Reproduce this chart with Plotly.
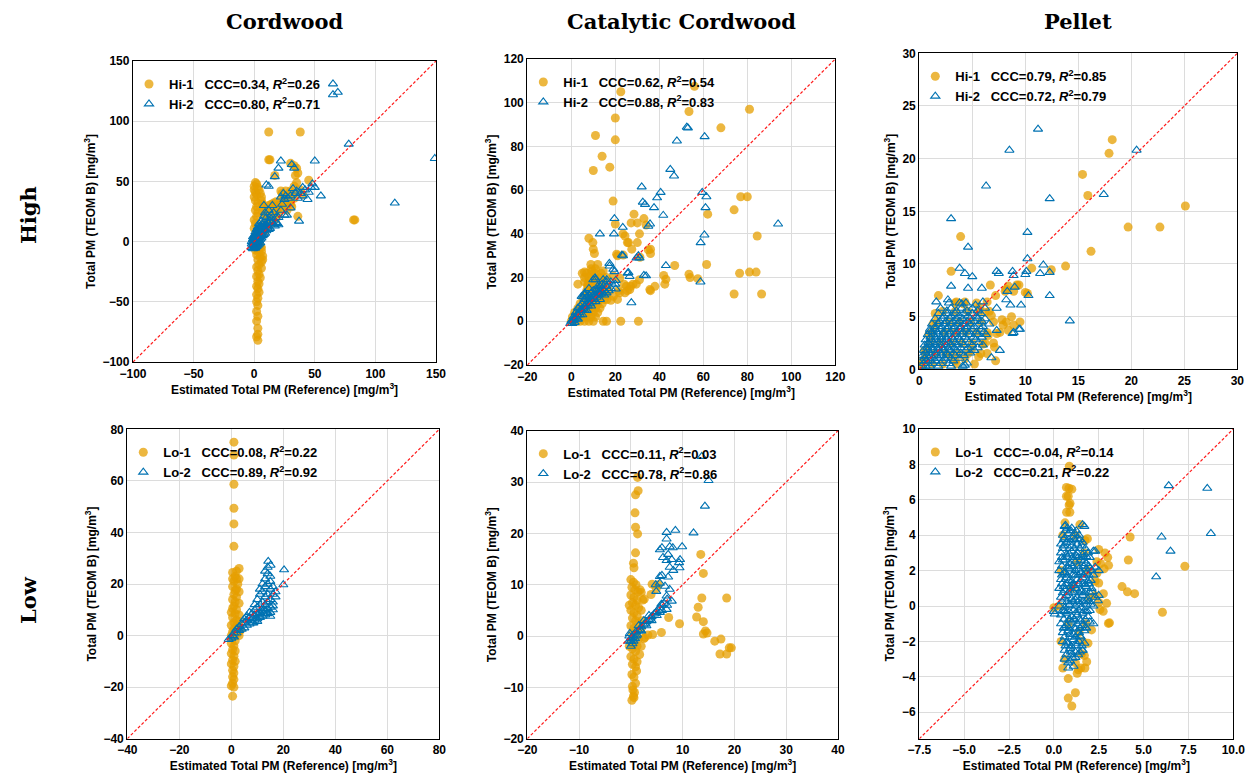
import plotly.graph_objects as go

# ---------------- data ----------------
cord_hi_1 = [(3,-82),(2,-79),(3,-77),(3,-72),(2,-66),(3,-62),(2,-58),(3,-53),(2,-50),(3,-47),(2,-44),(4,-42),(3,-39),(2,-37),(4,-35),(3,-33),(5,-30),(2,-29),(4,-27),(3,-24),(6,-22),(2,-21),(4,-19),(6,-17),(3,-15),(5,-13),(7,-12),(2,-11),(4,-9),(6,-8),(1,-7),(3,-6),(5,-4),(0,-4),(2,-2),(4,-1),(1,0),(7,-15),(6,-5),
             (0,46),(1,49),(2,48),(0,43),(1,41),(2,39),(0,37),(1,34),(3,32),(2,29),(1,26),(3,24),(2,21),(0,18),(1,15),(3,13),(0,11),(2,8),(1,5),(3,3),(0,1),
             (3,45),(4,43),(5,40),(6,37),(6,34),(7,31),(8,28),(7,25),(9,23),(10,21),
             (10,27),(12,30),(14,31),(16,32),(18,33),(20,30),(22,35),(23,40),(25,37),(26,42),(28,39),(29,35),(30,42),(32,40),(33,46),(35,49),(34,55),(36,57),(35,61),(30,65),(33,63),(22,42),(26,31),(15,26),(12,22),(18,26),(20,23),(23,28),(30,31),(25,33),(33,36),(36,21),(38,43),(40,39),(45,51),(17,55),(12,68),(13,68),(12,91),(38,91),(82,18),(83,18),(20,28),(8,15),(10,12),(6,6),(9,9),(13,14),(15,18),(5,11),(27,26),(31,29),(18,19),(16,22)]
cord_hi_2 = [(-2,-5),(-1,-6),(0,-4),(1,-5),(2,-4),(3,-3),(-2,-2),(-1,-1),(0,-2),(1,0),(2,1),(3,0),(4,1),(5,2),(2,4),(3,5),(4,6),(5,4),(6,3),(1,3),(0,5),(-1,2),(0,1),(2,7),(3,9),(4,10),(5,8),(6,7),(7,9),(8,11),(6,12),(7,14),(9,13),(10,14),(11,16),(12,15),(8,6),(9,7),(10,9),(1,-2),(4,3),(5,-1),(3,12),(2,10),(4,15),(6,17),(5,13),(7,5),(1,6),(3,-1),(-1,-3),(0,3),(1,8),(2,-1),(4,-2),(3,7),(5,10),(-2,0),(-1,4),(6,9),
             (0.5,-5.5),(1.5,-3),(2.5,-2),(-0.5,0),(0.5,2),(1.5,4.5),(2.5,5.5),(3.5,3),(4.5,4.5),(1.5,1),(3.5,10.5),(5.5,11.5),(6.5,14.5),(7.5,11),(8.5,13.5),
             (13,17),(14,19),(15,16),(16,14),(17,13),(18,16),(19,15),(20,14),(12,10),(10,20),(8,21),(9,24),(8,30),(12,26),(15,30),(10,47),(12,46),(14,22),(20,20),(22,26),(25,22),(25,35),(24,40),(22,37),(23,31),(26,38),(28,36),(30,38),(32,44),(34,40),(35,42),(36,36),(38,40),(40,38),(42,43),(44,35),(45,41),(47,45),(48,48),(50,45),(50,67),(55,38),(37,17),(27,22),(22,67),(20,61),(31,64),(33,61),(17,54),(65,131),(65,122),(69,124),(78,81),(149,69),(116,32),(30,28),(18,20),(16,24),(40,45),(11,12),(13,11)]

cat_hi_1 = [(22.5,105),(56,107.5),(53.5,96),(81,97),(68,88.5),(20,93),(20,83),(11,85),(14,75.5),(17.5,70.5),(10,69),(19,55),(77,57),(80,57),(62,49),(74,51),(84.5,39),(28.5,49),(33,47),(30,45),(20,44.5),(23.5,40),(31,40),(25.5,36),(36,33),(36,31),(30,36),(8,38),(9.8,36),(10,33),(10.5,31),(21,30),(61.5,26),(47,25.5),(42,21),(53.5,21.5),(54,20),(57.5,19.5),(76.5,22),(81,22.5),(84,22.5),(74,12.5),(86.5,12.5),(42.5,17),(38,16),(36,14),(22.5,0),(30.5,0),(14.5,0),(10,0),(16,0),(24,17),(27,16),(29.5,17),(25.5,14),(31,19),(21,10),(18,9.6),(21.5,14),(6,22.5),(8.9,26),(12,26),(9.5,23),(14.5,23),(16,20),(13,17),(7.5,17),(3,17),
            (27.2,45),(34,44),(24.4,39),(26,36),(27.5,33),(35,32.7),(31.2,29.3),(20.6,30.7),(23.6,30.3),(19.1,20.6),(22,19.8),(25,16),(28,17),(24.4,13),(26.6,14.5),(35.7,14.5),(43,19.2),(22,13),(19.1,11.4),(16.1,9.9),(13,10.6),
            (0,0),(1,0),(2.5,0),(4,0),(6,0),(8,0),(0.5,2),(2,2),(3.5,2),(5,2),(7,2),(9,2),(11,2),(1.5,4),(3,4),(4.5,4),(6,4),(8,4),(10,4),(12,4),(3,6),(4.5,6),(6,6),(7.5,6),(9,6),(11,6),(13,6),(4,8),(5.5,8),(7,8),(8.5,8),(10,8),(12,8),(14,8),(5.5,10),(7,10),(8.5,10),(10,10),(11.5,10),(13,10),(15,10),(6.5,12),(8,12),(9.5,12),(11,12),(12.5,12),(14,12),(16,12),(7,14),(8.5,14),(10,14),(11.5,14),(13,14),(15,14),(17,14),(7.5,16),(9,16),(10.5,16),(12,16),(14,16),(16,16),(6,18),(8,18),(10,18),(12,18),(14,18),(6,20),(8,20),(10.5,20),(13,20),(5,22),(7,22),(9,21.5),(11,22),(13.5,22),(9,24),(11,24)]
cat_hi_2 = [(53,88.5),(52.5,88.8),(60.6,84.5),(48,82.5),(45,69.5),(46.7,66.5),(32,61.5),(40.6,59),(59.5,59),(39,56.5),(61.4,57),(32.5,54.5),(33.5,53.5),(37.6,52),(61,52),(41.8,48.5),(35.8,44.5),(35,43.5),(94,44.5),(60.5,39.5),(58.8,36),(19.6,47),(19.4,40),(13,40),(23.4,43),(23.5,30),(29.7,29),(31,29),(43,25.5),(58.7,18),(33,21),(25.6,22),(26.5,20.5),(27.3,8.5),(20.2,18.7),(20.2,14.8),(17.4,25.3),(19.6,22.7),(11,19),(14.5,19),(6.1,12),(5.2,11.2),
            (17.3,26.5),(23,30.3),(30.5,30),(19.1,23.8),(26,22.3),(34,20.8),(10.8,19.9),(6.2,13),(4.7,11.4),(10,19),(16.1,19),(13,16),(11.5,14.5),
            (0,0),(0.5,-1),(1,0.5),(1.5,1),(2,2),(2.5,1.5),(3,3),(3.5,4),(4,3),(4.5,5),(5,5),(5.5,6),(6,5),(6.5,7),(7,8),(7.5,7),(8,9),(8.5,8),(9,10),(9.5,9),(10,11),(10.5,10),(11,12),(11.5,11),(12,13),(12.5,12),(13,14),(13.5,12.5),(14,15),(15,14),(16,16),(5,8),(6,10),(7,11),(8,12),(9,13),(4,7),(3,6),(2,4),(1,2),(3,1),(5,3),(7,5),(9,7),(11,9),(13,10),(15,12),(17,14),(10,14),(12,16),(14,17),(16,13),(18,15),(20,17),(6,12.5),(8,15),(-0.5,-1),(0.5,0.5),(1.5,-0.5),(2.5,3),(4,5),(6,7),(8,10),(10,12),(12,14),(14,13),(16,18),(18,18)]

pel_hi_1 = [(18.2,21.8),(17.9,20.5),(15.4,18.5),(15.9,16.5),(25.1,15.5),(19.7,13.5),(22.7,13.5),(16.2,11.2),(3.9,12.6),(13.8,9.8),(12.45,9.45),(10.6,9.6),(3.0,9.3),(1.8,7),(6.7,8),(9.2,8),(8.2,7.6),(10,7.3),(7.2,7),(7.2,0.8),(2.9,1.3),
            (8.4,7.9),(9.4,8),(8.9,7.4),(8.1,7.4),(10.2,7.2),(3.5,6.4),(4.3,6.4),(5.7,5.9),(6.2,5.4),(6.8,5.1),(7.8,4.7),(8.7,5),(9.5,4.5),(8.9,4.2),(7.9,4.2),(8.4,3.7),(7.3,3.4),(6.5,3.2),(6.0,2.4),(7.1,2.1),(6.4,1.5),(5.6,1.2),(4.9,1.8),(4.3,1),(3.4,0.8),(1.5,5.3),(1.3,4.3),(0.9,3.3),(0.5,1.8),(0.2,0.8),(0.2,0.4),(0.5,0.9),(0.1,0.2),
            (0.3,0.5),(1.2,0.5),(2.2,0.5),(3.5,0.5),(5.2,0.5),(0.6,1.5),(1.5,1.5),(2.5,1.5),(3.6,1.5),(4.6,1.5),(5.8,1.5),(1.0,2.5),(2.0,2.5),(3.0,2.5),(4.0,2.5),(5.0,2.5),(6.2,2.5),(7.0,2.5),(1.2,3.5),(2.4,3.5),(3.4,3.5),(4.4,3.5),(5.4,3.5),(6.4,3.5),(7.6,3.5),(1.6,4.5),(2.8,4.5),(3.8,4.5),(4.8,4.5),(5.8,4.5),(7.0,4.5),(8.2,4.5),(2.2,5.5),(3.4,5.5),(4.6,5.5),(5.6,5.5),(6.6,5.5),(3.4,6.3),(4.2,6.2),(5.4,6.3),(6.4,6.4)]
pel_hi_2 = [(11.2,22.8),(8.5,20.8),(20.5,20.8),(6.3,17.4),(17.4,16.6),(12.3,16.2),(3.0,14.3),(10.2,13),(4.6,11.6),(10.2,10.5),(3.8,9.6),(4.3,9.1),(5,8.8),(7.3,9.3),(8.8,9.3),(11.7,9.9),(11.4,9.1),(12.3,9.2),(10,9),(10.3,7),(12.3,7),(14.2,4.6),(3,7.9),(5.9,7.7),(4.6,7.7),(8.8,3.4),(9.4,3.8),(7.6,1.8),(4.5,0.6),
            (7.5,9.1),(8.9,8.9),(10.1,9.3),(8.3,7.4),(9,7.8),(8.2,6.6),(9.6,6.1),(8.6,6.1),(7.3,5.8),(1.6,6.4),(2.7,6.6),(4,6.2),(5.3,6.1),(6.0,6.4),(7.3,3.7),(8.9,3.5),(9.5,3.8),(6.8,1.1),(4.3,0.4),(1.0,3.6),(0.9,2.4),
            (0.2,0.3),(0.6,0.3),(1.0,0.3),(1.8,0.3),(3.0,0.3),(4.1,0.3),(0.2,0.8),(0.6,0.8),(1.0,0.8),(1.5,0.8),(2.2,0.8),(3.2,0.8),(0.3,1.3),(0.7,1.3),(1.1,1.3),(1.6,1.3),(2.1,1.3),(2.7,1.3),(3.4,1.3),(4.2,1.3),(0.4,1.8),(0.8,1.8),(1.3,1.8),(1.8,1.8),(2.3,1.8),(2.9,1.8),(3.5,1.8),(4.4,1.8),(5.2,1.8),(0.5,2.3),(1.0,2.3),(1.5,2.3),(2.0,2.3),(2.5,2.3),(3.0,2.3),(3.6,2.3),(4.2,2.3),(5.0,2.3),(6.0,2.3),(0.6,2.8),(1.1,2.8),(1.6,2.8),(2.1,2.8),(2.6,2.8),(3.2,2.8),(3.8,2.8),(4.5,2.8),(5.3,2.8),(0.8,3.3),(1.3,3.3),(1.8,3.3),(2.3,3.3),(2.8,3.3),(3.4,3.3),(4.0,3.3),(4.7,3.3),(5.5,3.3),(6.3,3.3),(1.0,3.8),(1.5,3.8),(2.0,3.8),(2.6,3.8),(3.2,3.8),(3.8,3.8),(4.4,3.8),(5.0,3.8),(5.8,3.8),(1.2,4.3),(1.8,4.3),(2.4,4.3),(3.0,4.3),(3.6,4.3),(4.2,4.3),(4.8,4.3),(5.6,4.3),(6.6,4.3),(1.5,4.8),(2.2,4.8),(2.9,4.8),(3.5,4.8),(4.1,4.8),(4.8,4.8),(5.5,4.8),(6.2,4.8),(1.8,5.3),(2.6,5.3),(3.4,5.3),(4.2,5.3),(5.0,5.3),(5.8,5.3),(2.0,5.8),(3.0,5.8),(4.0,5.8),(5.0,5.8),(6.2,5.8),(2.8,6.3),(3.8,6.3),(4.4,6.3),
            (0.4,0.55),(0.8,0.55),(1.3,0.55),(2.0,0.55),(2.8,0.55),(0.5,1.05),(0.9,1.05),(1.35,1.05),(1.85,1.05),(2.4,1.05),(3.0,1.05),(3.8,1.05),(0.6,1.55),(1.05,1.55),(1.55,1.55),(2.05,1.55),(2.6,1.55),(3.2,1.55),(3.9,1.55),(4.8,1.55),(0.75,2.05),(1.25,2.05),(1.75,2.05),(2.25,2.05),(2.75,2.05),(3.3,2.05),(3.9,2.05),(4.6,2.05),(5.5,2.05),(0.85,2.55),(1.35,2.55),(1.85,2.55),(2.35,2.55),(2.85,2.55),(3.4,2.55),(4.0,2.55),(4.7,2.55),(5.6,2.55),(1.05,3.05),(1.55,3.05),(2.05,3.05),(2.55,3.05),(3.1,3.05),(3.7,3.05),(4.3,3.05),(5.1,3.05),(5.9,3.05),(1.2,3.55),(1.7,3.55),(2.3,3.55),(2.9,3.55),(3.5,3.55),(4.1,3.55),(4.7,3.55),(5.4,3.55),(6.1,3.55),(1.5,4.05),(2.1,4.05),(2.7,4.05),(3.3,4.05),(3.9,4.05),(4.5,4.05),(5.2,4.05),(6.0,4.05),(1.9,4.55),(2.5,4.55),(3.2,4.55),(3.8,4.55),(4.5,4.55),(5.2,4.55),(5.9,4.55),(2.3,5.05),(3.0,5.05),(3.8,5.05),(4.6,5.05),(5.4,5.05),(2.6,5.55),(3.5,5.55),(4.5,5.55),(5.5,5.55)]

cord_lo_1 = [(1,75),(1,70),(1,58.7),(1,49.4),(1,43.3),(1,34.6),
             (3,26),(2,25),(0.5,24.5),(1.5,23),(3,22),(1,21),(2.5,20),(0.5,19),(2,18),(3,17),(1,16),(2,15),(0.5,14),(1.5,13),(3,12.5),(1,11.5),(2,10),(0,9),(1.5,8.5),(3,8),(0.5,7),(2,6),(1,5),(3,5.5),(0,4),(2,3.5),(1,2.5),(3.5,2),(0.5,1.5),(2.5,1),(0,0),(1.5,0.5),(3,0),(0.5,-1),(1.5,-2),(0,-3),(1,-4),(0.5,-5.5),(1.5,-6),(0,-7),(1,-8),(0.5,-9.5),(1.5,-10),(0,-11),(1,-12),(0.5,-13.5),(1,-14.5),(0.5,-16),(1,-17),(0.5,-18.5),(0,-19.5),(1,-20),(0.5,-23.5),(2,2),(2.5,4),(0.5,10.5),(1.5,17.5),(2,22),(0.5,22)]
cord_lo_2 = [(-1,-1.5),(0,-1),(0.5,0),(1,1),(1,-0.5),(2,1),(2,2.5),(3,2),(3,3.5),(4,2.5),(4,4.5),(5,3),(5,5),(6,4),(6,6),(7,4.5),(7,7),(8,5),(8,6.5),(8,8.5),(9,6),(9,8),(9,10),(10,6.5),(10,8.5),(10,11),(10,14),(11,7),(11,9),(11,12),(11,16),(12,7.5),(12,9.5),(12,13),(12,17),(12,20),(13,8),(13,10),(13,12),(13,15),(13,19),(13,22),(13,25),(14,8.5),(14,10.5),(14,13),(14,16),(14,20),(14,24),(14,26.5),(15,9),(15,11),(15,14),(15,18),(15,21),(15,23),(16,10),(16,13),(16,16),(16,19),(17,15),(17,17),(14.2,28.8),(15.1,27.3),(20.3,25.5),(20,19.7),(7,9),(6,7.5),(5,6.5),(9,12),(11,18),(12,10.5),(10,5.5),(16,11.5),(15,7.5),(8.5,4.9),(11,7.5),(13,9.5)]

cat_lo_1 = [(1.3,30.9),(1.4,28.3),(0.9,27.5),(0.8,24),(0.9,21.2),(1.3,19.9),(0.9,16.2),(0.5,14.2),(0.6,13.3),
            (0,11),(0.5,10.5),(1,10),(0.2,9.5),(0.8,9),(1.4,8.6),(0,8),(0.6,7.5),(1.2,7),(0.3,6.5),(0.9,6),(1.5,5.5),(0,5),(0.6,4.5),(1.2,4),(0.3,3.5),(0.9,3),(1.5,2.5),(0,2),(0.6,1.5),(1.2,1),(0.3,0.5),(0.9,0),(1.5,-0.5),(0,-1),(0.6,-1.5),(1.2,-2),(0.3,-2.5),(0.9,-3),(1.7,-3.6),(0,-4),(0.6,-4.5),(1.2,-5),(0.3,-5.5),(0.9,-6),(1.1,-6.8),(0.2,-7.5),(0.6,-8),(0.9,-9.2),(0.3,-9.8),(0.4,-10.5),(0.7,-11),(0.5,-11.7),(0.2,-12.5),(0.6,-12),
            (2,8.5),(2.3,7),(2,5),(2.2,3),(2,1.5),(2.5,-0.5),(2,-2),(-0.3,6),(-0.3,-2),
            (13.5,15.9),(14,12.2),(13.7,7.4),(18.5,7.4),(13,5.6),(12.7,3.7),(14,2.8),(14.4,1),(14,0.4),(14.7,0.6),(16.2,-1),(17.4,-0.6),(17.2,-3.5),(18.5,-3.5),(19,-2.3),(19.4,-2.3),(9.4,2.4),(7.3,3.6),(4.1,10.1),(5.3,10),(3.9,8.1),(2.6,7.2),(5.9,0.7),(3.3,0.2),(4.2,0.3),(4.9,9.2),(1.8,9),(2.7,-0.3)]
cat_lo_2 = [(13.7,35),(15,30.3),(14.3,25.3),(6.9,20.2),(8.6,20.6),(12.1,20.1),(9.9,17.4),(5.6,16.8),(8.1,17.2),(9.3,14.3),(4.8,10),(5.6,11.6),
            (6,17.2),(6.9,18.9),(7.5,17.4),(7.2,15.9),(6.2,15.3),(7.9,14.9),(9.5,14.9),(9.4,13.3),(6.9,14.7),(7.5,13.4),(8.2,12.8),(6,11.8),(7.2,11.5),(5.6,10.3),(4.9,8.7),(6.6,9.7),(7.5,9.1),(6.9,7.8),(7.9,6.8),(5.9,6.2),(6.9,5.2),
            (0,-1),(-0.3,0),(0.3,-1.5),(0.5,0.2),(1,0.8),(1.5,1),(2,1.8),(2.5,2.2),(3,2.8),(3.5,3.2),(4,3.8),(4.5,4.3),(5,4.8),(5.5,5.5),(6,6),(0.5,-1),(1,0),(2,1),(3,2),(4,3),(5,4),(6,5),(7,6),(1.5,2),(2.5,3),(3.5,4),(0,-2),(0,-0.5),(-0.2,0.5),(0.8,-0.5),(1.2,0.2),(0.3,-0.3),(-0.4,-1),(1.8,1.2),(2.8,2.4),(3.8,3.5),(4.8,4.5),(5.6,4.6),(6.4,6.4),(7,7.2)]

pel_lo_1 = [(0.86,7.9),(0.7,6.7),(1.0,6.6),(0.7,6.2),(0.85,5.7),(4.25,3.9),(4.15,2.6),(7.3,2.25),(3.8,1.1),(4.1,0.8),(4.5,0.7),(6.05,-0.35),(3.1,-0.95),(3,2.75),(3.05,2.3),(2.4,2.5),(2.8,2.1),(0.8,-4.1),(0.8,-5.2),(1.2,-4.9),(1.0,-5.65),(1.5,-3.5),(1.2,-3.2),(1.7,-2.8),(2.3,1.4),(2.3,0.6),(2.5,0.2),(2.75,-0.3),
            (0.84,6.65),(0.8,6.2),(0.9,5.8),(0.71,5.3),(0.89,5.3),(0.62,4.7),(1.45,4.6),(1.73,3.7),(1.87,3.8),(2.4,1.85),(2.5,1.3),(2.76,0.7),(2.94,0.15),(2.57,-0.2),(3.04,-0.98),(2.1,-1.35),(1.9,-2.1),(1.55,-2.7),(1.83,-3.15),(1.73,-3.5),(1.36,-3.6),(2.5,3.2),(2.85,3),(2.6,2.4),
            (0.5,4),(1.2,4),(1.7,3),(0.4,2),(1.9,2),(0.3,0),(2,0.5),(1.8,-1),(0.4,-2),(1.6,-2),(0.6,-3),(1.3,-3.8),(0.5,-3.5),(1,1),(1.3,2.5),(0.8,-1),(1.4,-1.5),(0,-0.1)]
pel_lo_2 = [(6.4,6.8),(8.55,6.65),(8.75,4.1),(6.0,3.9),(6.5,3.1),(5.7,1.65),(2.2,3.1),(1.7,4.5),(0.65,4.55),(2.5,2.0),(0,-0.3),(0.05,-0.45),(2.3,2.2),(2.5,0.6),(2.45,0.3),(2.2,-1),(1.6,-2.5),(2.3,3.1),
            (0.6,4.5),(1.0,4.4),(1.6,4.6),(0.5,4.0),(0.8,4.1),(1.1,3.9),(1.4,4.0),(0.4,3.5),(0.7,3.6),(1.0,3.4),(1.3,3.5),(1.6,3.6),(0.4,3.0),(0.7,2.9),(1.0,3.1),(1.3,3.0),(1.6,2.9),(1.9,3.0),(0.3,2.5),(0.6,2.6),(0.9,2.4),(1.2,2.5),(1.5,2.6),(1.8,2.4),(0.3,2.0),(0.6,1.9),(0.9,2.1),(1.2,2.0),(1.5,1.9),(1.8,2.1),(2.1,2.0),(0.4,1.5),(0.7,1.6),(1.0,1.4),(1.3,1.5),(1.6,1.6),(1.9,1.4),(0.3,1.0),(0.6,0.9),(0.9,1.1),(1.2,1.0),(1.5,0.9),(1.8,1.1),(2.1,1.0),(0.4,0.5),(0.7,0.6),(1.0,0.4),(1.3,0.5),(1.6,0.6),(1.9,0.4),(2.3,0.5),(0.3,0.0),(0.6,-0.1),(0.9,0.1),(1.2,0.0),(1.5,-0.1),(1.8,0.1),(2.2,0.0),(0.4,-0.5),(0.7,-0.4),(1.0,-0.6),(1.3,-0.5),(1.6,-0.4),(1.9,-0.6),(0.4,-1.0),(0.7,-1.1),(1.0,-0.9),(1.3,-1.0),(1.6,-1.1),(2.0,-0.9),(0.5,-1.5),(0.8,-1.4),(1.1,-1.6),(1.4,-1.5),(1.7,-1.4),(0.5,-2.0),(0.8,-2.1),(1.1,-1.9),(1.4,-2.0),(1.7,-2.1),(0.6,-2.5),(0.9,-2.4),(1.2,-2.6),(1.6,-2.5),(0.6,-3.0),(0.9,-3.1),(1.2,-2.9),(0.8,-3.5),(1.1,-3.4),
            (0.65,4.25),(0.95,4.25),(1.25,4.25),(0.55,3.75),(0.85,3.75),(1.15,3.75),(1.45,3.75),(0.5,3.25),(0.85,3.25),(1.15,3.25),(1.45,3.25),(1.75,3.25),(0.45,2.75),(0.75,2.75),(1.05,2.75),(1.35,2.75),(1.65,2.75),(2.0,2.75),(0.45,2.25),(0.75,2.25),(1.05,2.25),(1.35,2.25),(1.65,2.25),(1.95,2.25),(0.45,1.75),(0.75,1.75),(1.05,1.75),(1.35,1.75),(1.65,1.75),(1.95,1.75),(2.2,1.75),(0.45,1.25),(0.75,1.25),(1.05,1.25),(1.35,1.25),(1.65,1.25),(1.95,1.25),(0.5,0.75),(0.8,0.75),(1.1,0.75),(1.4,0.75),(1.7,0.75),(2.0,0.75),(0.45,0.25),(0.75,0.25),(1.05,0.25),(1.35,0.25),(1.65,0.25),(1.95,0.25),(0.5,-0.25),(0.8,-0.25),(1.1,-0.25),(1.4,-0.25),(1.7,-0.25),(2.0,-0.25),(0.55,-0.75),(0.85,-0.75),(1.15,-0.75),(1.45,-0.75),(1.75,-0.75),(0.55,-1.25),(0.85,-1.25),(1.15,-1.25),(1.45,-1.25),(1.8,-1.25),(0.6,-1.75),(0.9,-1.75),(1.2,-1.75),(1.5,-1.75),(0.65,-2.25),(0.95,-2.25),(1.25,-2.25),(1.55,-2.25),(0.7,-2.75),(1.0,-2.75),(1.35,-2.75),
            (0.75,4.4),(1.15,4.1),(0.6,3.85),(1.3,3.8),(0.95,3.6),(0.55,3.4),(1.55,3.4),(0.85,2.95),(1.25,2.85),(1.8,2.8),(0.5,2.6),(1.1,2.6),(1.7,2.55),(0.8,2.15),(1.4,2.1),(2.0,2.15),(0.55,1.85),(1.2,1.75),(1.8,1.85),(0.85,1.45),(1.5,1.4),(2.05,1.45),(0.55,1.1),(1.15,1.15),(1.75,1.2),(0.9,0.85),(1.55,0.8),(2.15,0.8),(0.6,0.4),(1.2,0.35),(1.8,0.3),(0.85,0.05),(1.45,0.1),(2.05,0.1),(0.6,-0.3),(1.25,-0.35),(1.85,-0.3),(0.9,-0.8),(1.5,-0.85),(0.6,-1.2),(1.2,-1.3),(1.75,-1.2),(0.9,-1.6),(1.45,-1.7),(0.7,-2.05),(1.25,-2.1),(0.95,-2.6),(1.45,-2.6),(0.8,-3.2),(1.05,-2.95)]

fuel_titles = ["Cordwood", "Catalytic Cordwood", "Pellet"]
load_titles = ["High", "Low"]
series_names = [["Hi-1", "Hi-2"], ["Lo-1", "Lo-2"]]
ccc_1 = [[0.34, 0.62, 0.79], [0.08, 0.11, -0.04]]
r2_1 = [[0.26, 0.54, 0.85], [0.22, 0.03, 0.14]]
ccc_2 = [[0.80, 0.88, 0.72], [0.89, 0.78, 0.21]]
r2_2 = [[0.71, 0.83, 0.79], [0.92, 0.86, 0.22]]
axis_ranges = [[[-100, 150], [-20, 120], [0, 30]], [[-40, 80], [-20, 40], [-7.5, 10]]]
x_dtick = [[50, 20, 5], [20, 10, 2.5]]
y_dtick = [[50, 20, 5], [20, 10, 2]]

series_1 = [[cord_hi_1, cat_hi_1, pel_hi_1], [cord_lo_1, cat_lo_1, pel_lo_1]]
series_2 = [[cord_hi_2, cat_hi_2, pel_hi_2], [cord_lo_2, cat_lo_2, pel_lo_2]]

# ---------------- layout geometry ----------------
W, H = 1247, 778
plot_px = {(0, 0): (133, 436, 61, 362), (0, 1): (527.3, 835.3, 59, 365), (0, 2): (919.3, 1237.3, 53.3, 369.3),
           (1, 0): (127.3, 439.3, 429.3, 738.7), (1, 1): (527.3, 838, 430.7, 738.7), (1, 2): (919.3, 1233.3, 429, 738.8)}

ORANGE = "rgba(230,159,0,0.75)"
BLUE = "#0072B2"
FONT = "Liberation Sans, Arial, sans-serif"

fig = go.Figure()
layout = dict(width=W, height=H, autosize=False, margin=dict(l=0, r=0, t=0, b=0, autoexpand=False),
              paper_bgcolor="white", plot_bgcolor="white",
              font=dict(family=FONT, color="black", size=12), showlegend=True)
annotations = []
shapes = []

for r in range(2):
    for c in range(3):
        k = r * 3 + c + 1
        sx = "" if k == 1 else str(k)
        xa, ya = "x" + sx, "y" + sx
        lg = "legend" + ("" if k == 1 else str(k))
        x0, x1, y0, y1 = plot_px[(r, c)]
        d1 = series_1[r][c]
        d2 = series_2[r][c]
        lab1 = f"{series_names[r][0]}\u00a0\u00a0\u00a0CCC={ccc_1[r][c]:.2f}, <i>R</i><sup>2</sup>={r2_1[r][c]:.2f}"
        lab2 = f"{series_names[r][1]}\u00a0\u00a0\u00a0CCC={ccc_2[r][c]:.2f}, <i>R</i><sup>2</sup>={r2_2[r][c]:.2f}"
        fig.add_trace(go.Scatter(x=[p[0] for p in d1], y=[p[1] for p in d1], mode="markers", name=lab1,
                                 xaxis=xa, yaxis=ya, legend=lg,
                                 marker=dict(symbol="circle", size=9, color=ORANGE, line=dict(width=0))))
        fig.add_trace(go.Scatter(x=[p[0] for p in d2], y=[p[1] for p in d2], mode="markers", name=lab2,
                                 xaxis=xa, yaxis=ya, legend=lg,
                                 marker=dict(symbol="triangle-up-open", size=8, color=BLUE, line=dict(width=1.1, color=BLUE))))
        rng = axis_ranges[r][c]
        # 1:1 reference line, positioned through the axis scale
        shapes.append(dict(type="line", xref=xa, yref=ya, x0=rng[0], y0=rng[0], x1=rng[1], y1=rng[1],
                           line=dict(color="#ff1a1a", width=1.2, dash="3px,2px"), layer="above"))
        common = dict(showgrid=True, gridcolor="#dcdcdc", gridwidth=1, zeroline=False, automargin=False,
                      showline=True, linecolor="black", linewidth=1.3, mirror=True, ticks="",
                      tickfont=dict(family=FONT, size=12, color="black", weight="bold"))
        xfmt = ".1f" if (r, c) == (1, 2) else None
        layout["xaxis" + sx] = dict(common, domain=[x0 / W, x1 / W], anchor=ya, range=rng,
                                    tick0=0, dtick=x_dtick[r][c], tickformat=xfmt,
                                    title=dict(text="Estimated Total PM (Reference) [mg/m<sup>3</sup>]", standoff=0,
                                               font=dict(family=FONT, size=12, weight="bold")))
        layout["yaxis" + sx] = dict(common, domain=[1 - y1 / H, 1 - y0 / H], anchor=xa, range=rng,
                                    tick0=0, dtick=y_dtick[r][c],
                                    title=dict(text="Total PM (TEOM B) [mg/m<sup>3</sup>]", standoff=4,
                                               font=dict(family=FONT, size=12, weight="bold")))
        layout[lg] = dict(x=(x0 - 4) / W, y=1 - (y0 + 8) / H, xanchor="left", yanchor="top",
                          bgcolor="rgba(255,255,255,0)", borderwidth=0, tracegroupgap=0,
                          font=dict(family=FONT, size=13, color="black", weight="bold"))
        if r == 0:
            annotations.append(dict(text=fuel_titles[c], x=(x0 + x1) / 2 / W, y=1 - 22 / H, xref="paper", yref="paper",
                                    showarrow=False, xanchor="center", yanchor="middle",
                                    font=dict(family="DejaVu Serif", size=21, color="black", weight="bold")))

annotations.append(dict(text=load_titles[0], x=28 / W, y=1 - 215 / H, xref="paper", yref="paper", textangle=-90,
                        showarrow=False, xanchor="center", yanchor="middle",
                        font=dict(family="DejaVu Serif", size=21, color="black", weight="bold")))
annotations.append(dict(text=load_titles[1], x=28 / W, y=1 - 600 / H, xref="paper", yref="paper", textangle=-90,
                        showarrow=False, xanchor="center", yanchor="middle",
                        font=dict(family="DejaVu Serif", size=21, color="black", weight="bold")))
layout["annotations"] = annotations
layout["shapes"] = shapes
fig.update_layout(**layout)
fig.write_html("out.html")
